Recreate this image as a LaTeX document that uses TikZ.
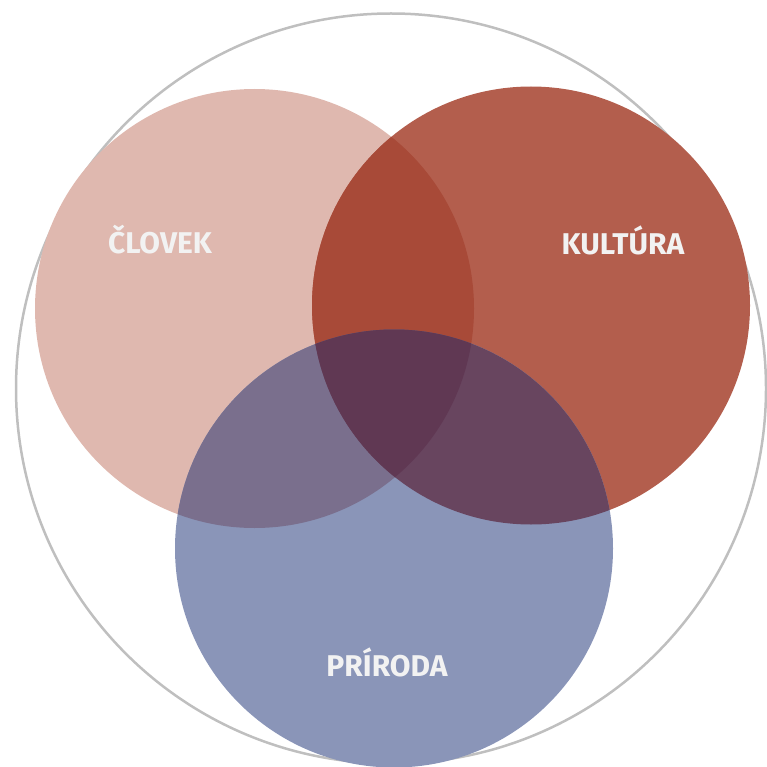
\documentclass[tikz,border=0pt]{standalone}
\usepackage{fontspec}
\setmainfont{Fira Sans}
\newfontfamily\labelfont{Fira Sans}
\definecolor{cPink}{HTML}{DFB8AF}
\definecolor{cRed}{HTML}{B35E4D}
\definecolor{cBlue}{HTML}{8A95B8}
\definecolor{cPR}{HTML}{A84A38}
\definecolor{cPB}{HTML}{7A6F8D}
\definecolor{cRB}{HTML}{68455F}
\definecolor{cAll}{HTML}{603853}
\definecolor{cRing}{HTML}{BFBFBF}
\definecolor{cText}{HTML}{F2F2F2}
\tikzset{
  lbl/.style={text=cText, font=\labelfont\bfseries\fontsize{30}{34}\selectfont, inner sep=0pt}
}
\begin{document}
\begin{tikzpicture}[x=1pt,y=-1pt]
\useasboundingbox (0,0) rectangle (766,767);
\def\cl{(254.5,308.5) circle (219.5)}
\def\ku{(531,305.5) circle (219)}
\def\pr{(394,548.5) circle (219)}
% outer ring
\node[circle, draw=cRing, line width=2.5pt, minimum size=750pt, inner sep=0pt] (ring) at (391,388.5) {};
% base circles
\fill[cPink] \cl;
\fill[cRed] \ku;
\fill[cBlue] \pr;
% pairwise overlaps
\begin{scope}
  \clip \cl;
  \fill[cPR] \ku;
  \fill[cPB] \pr;
\end{scope}
\begin{scope}
  \clip \ku;
  \fill[cRB] \pr;
\end{scope}
\begin{scope}
  \clip \cl;
  \clip \ku;
  \fill[cAll] \pr;
\end{scope}
% labels
\node[lbl] (clovek) at (160,240) {ČLOVEK};
\node[lbl] (kultura) at (623,240) {KULTÚRA};
\node[lbl] (priroda) at (387,662) {PRÍRODA};
\end{tikzpicture}
\end{document}
